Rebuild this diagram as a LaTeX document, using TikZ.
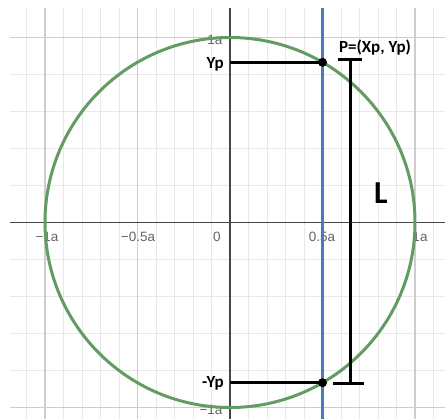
\documentclass[tikz,border=0pt]{standalone}
\usepackage{fontspec}
\setmainfont{Liberation Sans}
\newfontfamily\calb{Carlito}[BoldFont=Carlito Bold]
\definecolor{gridminor}{RGB}{232,232,232}
\definecolor{gridmajor}{RGB}{205,205,205}
\definecolor{axiscol}{RGB}{70,70,70}
\definecolor{circcol}{RGB}{98,156,98}
\definecolor{linecol}{RGB}{70,124,190}
\definecolor{labcol}{RGB}{100,100,100}
\tikzset{
  minorgrid/.style={draw=gridminor, line width=0.9pt},
  majorgrid/.style={draw=gridmajor, line width=1.1pt},
  axisline/.style={draw=axiscol, line width=1.4pt},
  ticklab/.style={text=labcol, font=\fontsize{13.5}{14}\selectfont, inner sep=0pt},
  boldlab/.style={font=\calb\bfseries\fontsize{17}{18}\selectfont, inner sep=0pt},
  blackline/.style={draw=black, line width=3pt},
  dotstyle/.style={circle, fill=black, inner sep=0pt, minimum size=9pt}
}
\begin{document}
\begin{tikzpicture}[x=1pt,y=-1pt]
\useasboundingbox (0,0) rectangle (445,419);
\fill[white] (0,0) rectangle (445,419);
% minor grid
\foreach \k in {-11,...,11} {
  \draw[minorgrid] ({230+18.5*\k},8) -- ({230+18.5*\k},419);
}
\foreach \j in {-4,...,4} {
  \draw[minorgrid] (10,{222.5+37*\j}) -- (445,{222.5+37*\j});
}
% major grid
\foreach \k in {-10,-5,5,10} {
  \draw[majorgrid] ({230+18.5*\k},8) -- ({230+18.5*\k},419);
}
\foreach \j in {-5,5} {
  \draw[majorgrid] (10,{222.5+37*\j}) -- (445,{222.5+37*\j});
}
% axes
\coordinate (O) at (230,222.5);
\coordinate (xl) at (10,222.5);
\coordinate (xr) at (445,222.5);
\coordinate (yt) at (230,8);
\coordinate (yb) at (230,419);
\draw[axisline] (xl) -- (xr);
\draw[axisline] (yt) -- (yb);
% tick labels
\node[ticklab] (lm1) at (47,237) {\textminus1a};
\node[ticklab] (lm05) at (138,237) {\textminus0.5a};
\node[ticklab] (l0) at (217,237) {0};
\node[ticklab] (l05) at (322,237) {0.5a};
\node[ticklab] (l1) at (420,237) {1a};
\node[ticklab] (ly1) at (215,40) {1a};
\node[ticklab] (lym1) at (211,410) {\textminus1a};
% circle
\draw[circcol, line width=3pt] (O) circle[radius=185];
% vertical blue line
\coordinate (bt) at (322.5,8);
\coordinate (bb) at (322.5,419);
\draw[linecol, line width=2.8pt] (bt) -- (bb);
% points
\coordinate (P) at (322.5,62.3);
\coordinate (Q) at (322.5,382.7);
\coordinate (Py) at (230,62.3);
\coordinate (Qy) at (230,382.7);
\draw[blackline] (Py) -- (P);
\draw[blackline] (Qy) -- (Q);
\node[dotstyle] (Pd) at (P) {};
\node[dotstyle] (Qd) at (Q) {};
% L bracket
\coordinate (Lt1) at (338,60);
\coordinate (Lt2) at (362,60);
\coordinate (Lt) at (350.5,60);
\coordinate (Lb) at (350.5,384);
\coordinate (Lb1) at (333,384);
\coordinate (Lb2) at (364,384);
\draw[blackline] (Lt1) -- (Lt2);
\draw[blackline] (Lb1) -- (Lb2);
\draw[blackline, line width=3.3pt] (Lt) -- (Lb);
% labels
\node[boldlab, anchor=east] (yp) at (224,64) {Yp};
\node[boldlab, anchor=east] (myp) at (224,383) {-Yp};
\node[boldlab] (plab) at (375,48) {P=(Xp, Yp)};
\node[font=\calb\bfseries\fontsize{32}{34}\selectfont, inner sep=0pt] (Llab) at (381,193) {L};
\end{tikzpicture}
\end{document}
